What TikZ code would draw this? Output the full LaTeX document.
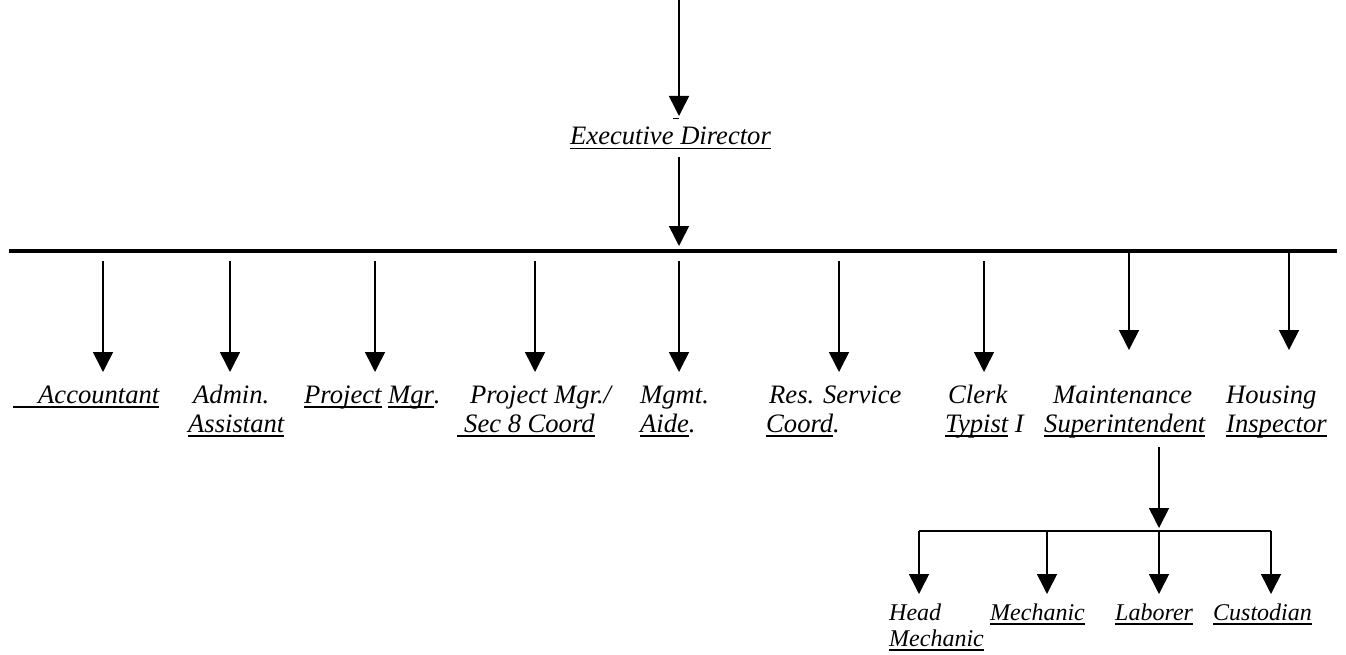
\documentclass[tikz,border=0pt]{standalone}
\usepackage{fontspec}
\setmainfont{Liberation Serif}
\usetikzlibrary{arrows.meta}
\newsavebox\ulbox
\newcommand\ulx[1]{\sbox\ulbox{#1}\rlap{\rule[-4.5pt]{\wd\ulbox}{1.8pt}}\usebox\ulbox}
\newcommand\twol[2]{\begin{tabular}[t]{@{}l@{}}#1\\#2\end{tabular}}
\begin{document}
\begin{tikzpicture}[x=1pt,y=-1pt,
  arr/.style={line width=1.6pt,-{Triangle[length=20pt,width=20pt]}},
  thin/.style={line width=1.4pt},
  lab/.style={anchor=base west,inner sep=0pt,font=\fontsize{26.6}{29}\selectfont\itshape},
  sublab/.style={anchor=base west,inner sep=0pt,font=\fontsize{24}{26}\selectfont\itshape}]
\useasboundingbox (0,0) rectangle (1346,655);

% top
\coordinate (src) at (679,0);
\coordinate (execin) at (679,116);
\draw[arr] (src) -- (execin);
\draw[line width=1.5pt] ([shift={(-6,2.5)}]execin) -- ([shift={(0,2.5)}]execin);
\node[lab] (exec) at (570,145) {\ulx{Executive Director}};
\coordinate (execout) at (679,157);
\coordinate (busin) at (679,246);
\draw[arr] (execout) -- (busin);

% bus
\coordinate (busL) at (9,251);
\coordinate (busR) at (1337,251);
\draw[line width=4.5pt] (busL) -- (busR);

% labels
\node[lab] (acc) at (13,403) {\ulx{\hspace{25pt}Accountant}};
\node[lab] (adm) at (188,403) {\twol{\hspace{5pt}Admin.}{\ulx{Assistant}}};
\node[lab] (pm) at (304,403) {\ulx{Project} \ulx{Mgr}.};
\node[lab] (pms) at (457,403) {\twol{\hspace{13pt}Project Mgr./}{\ulx{\hspace{7pt}Sec 8 Coord}}};
\node[lab] (mgmt) at (640,403) {\twol{Mgmt.}{\ulx{Aide}.}};
\node[lab] (res) at (766,403) {\twol{\hspace{3pt}Res. Service}{\ulx{Coord}.}};
\node[lab] (clerk) at (945,403) {\twol{\hspace{3pt}Clerk}{\ulx{Typist} I}};
\node[lab] (maint) at (1044,403) {\twol{\hspace{9pt}Maintenance}{\ulx{Superintendent}}};
\node[lab] (hous) at (1226,403) {\twol{Housing}{\ulx{Inspector}}};

% arrows from bus
\foreach \n/\x in {acc/103,adm/230,pm/375,pms/535,mgmt/679,res/839,clerk/984}{
  \coordinate (s\n) at (\x,261);
  \coordinate (t\n) at (\x,372);
  \draw[arr] (s\n) -- (t\n);
}
\foreach \n/\x in {maint/1129,hous/1289}{
  \coordinate (s\n) at (\x,251);
  \coordinate (t\n) at (\x,350);
  \draw[arr] (s\n) -- (t\n);
}

% maintenance subtree
\coordinate (ms) at (1159,447);
\coordinate (mt) at (1159,528);
\draw[arr] (ms) -- (mt);
\coordinate (hlL) at (919,531);
\coordinate (hlR) at (1271,531);
\draw[thin] (hlL) -- (hlR);

\node[sublab] (head) at (889,620) {\begin{tabular}[t]{@{}l@{}}Head\\\ulx{Mechanic}\end{tabular}};
\node[sublab] (mech) at (990,620) {\ulx{Mechanic}};
\node[sublab] (labr) at (1115,620) {\ulx{Laborer}};
\node[sublab] (cust) at (1213,620) {\ulx{Custodian}};

\foreach \n/\x in {head/919,mech/1047,labr/1159,cust/1271}{
  \coordinate (u\n) at (\x,531);
  \coordinate (v\n) at (\x,594);
  \draw[arr] (u\n) -- (v\n);
}
\end{tikzpicture}
\end{document}
